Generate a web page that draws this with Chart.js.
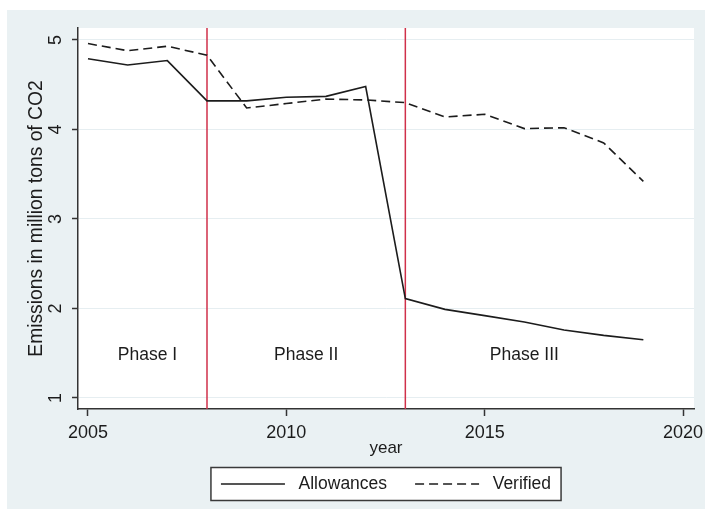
<!DOCTYPE html>
<html>
<head>
<meta charset="utf-8">
<script src="https://cdn.jsdelivr.net/npm/chart.js@4/dist/chart.umd.min.js"></script>
<style>
  html, body { margin: 0; padding: 0; background: #ffffff; }
  canvas { display: block; }
</style>
</head>
<body>
<canvas id="chart" width="705" height="509"></canvas>
<script>
// EU ETS emissions: allowances vs verified emissions (million t CO2)
const years = [2005, 2006, 2007, 2008, 2009, 2010, 2011, 2012, 2013, 2014, 2015, 2016, 2017, 2018, 2019];
const allowances = [4.79, 4.72, 4.77, 4.32, 4.32, 4.36, 4.37, 4.48, 2.11, 1.99, 1.92, 1.85, 1.76, 1.70, 1.65];
const verified   = [4.96, 4.88, 4.93, 4.83, 4.24, 4.29, 4.34, 4.33, 4.30, 4.14, 4.17, 4.01, 4.02, 3.85, 3.42];

const xTicks = [2005, 2010, 2015, 2020];
const yTicks = [1, 2, 3, 4, 5];

// Trading phase boundaries and their captions
const phaseBreaks = [2008, 2013];
const phaseNames = ['Phase I', 'Phase II', 'Phase III'];
const phaseNameX = [2006.5, 2010.5, 2016];
const phaseNameY = 1.48;

const FONT = '"Liberation Sans", Arial, Helvetica, sans-serif';
const INK = '#1c1c1c';
const LEGEND_MID = 484;

const toPoints = (vals) => years.map((yr, i) => ({ x: yr, y: vals[i] }));

const framePlugin = {
  id: 'frame',
  afterLayout(chart) {
    // place the legend row just below the axis title
    const lg = chart.legend;
    const pad = lg.options.labels.padding;
    lg.top = LEGEND_MID - pad - 17.5 / 2;
    lg.bottom = chart.height;
  },
  beforeDraw(chart) {
    const { ctx, chartArea: a } = chart;
    ctx.save();
    ctx.fillStyle = '#ffffff';
    ctx.fillRect(0, 0, chart.width, chart.height);
    ctx.fillStyle = '#eaf1f3';
    ctx.fillRect(7, 10, chart.width - 7, chart.height - 10);
    ctx.fillStyle = '#ffffff';
    ctx.fillRect(a.left, a.top, a.right - a.left, a.bottom - a.top);

    // legend frame
    const hb = chart.legend.legendHitBoxes;
    if (hb && hb.length) {
      const first = hb[0], last = hb[hb.length - 1];
      const left = first.left - 10;
      const right = last.left + last.width + 10;
      const mid = first.top + first.height / 2;
      ctx.fillStyle = '#ffffff';
      ctx.fillRect(left, mid - 16.5, right - left, 33);
      ctx.strokeStyle = '#3a3a3a';
      ctx.lineWidth = 1.5;
      ctx.strokeRect(left, mid - 16.5, right - left, 33);
    }
    ctx.restore();
  },
  beforeDatasetsDraw(chart) {
    const { ctx, chartArea: a, scales: { x, y } } = chart;
    ctx.save();
    ctx.strokeStyle = '#d0304a';
    ctx.lineWidth = 1.5;
    phaseBreaks.forEach((b) => {
      const px = x.getPixelForValue(b);
      ctx.beginPath();
      ctx.moveTo(px, a.top);
      ctx.lineTo(px, a.bottom);
      ctx.stroke();
    });
    ctx.fillStyle = INK;
    ctx.font = '17.5px ' + FONT;
    ctx.textAlign = 'center';
    ctx.textBaseline = 'middle';
    phaseNames.forEach((name, i) => {
      ctx.fillText(name, x.getPixelForValue(phaseNameX[i]), y.getPixelForValue(phaseNameY));
    });
    ctx.restore();
  }
};

new Chart(document.getElementById('chart'), {
  type: 'line',
  data: {
    datasets: [
      {
        label: 'Allowances',
        data: toPoints(allowances),
        borderColor: INK,
        borderWidth: 1.6,
        pointRadius: 0,
        fill: false,
        tension: 0
      },
      {
        label: 'Verified',
        data: toPoints(verified),
        borderColor: INK,
        borderWidth: 1.6,
        borderDash: [9, 5],
        pointRadius: 0,
        fill: false,
        tension: 0
      }
    ]
  },
  options: {
    responsive: false,
    animation: false,
    devicePixelRatio: 1,
    events: [],
    layout: { padding: { top: 28, right: 11, left: 0, bottom: 0 } },
    plugins: {
      tooltip: { enabled: false },
      legend: {
        position: 'bottom',
        fullSize: false,
        maxHeight: 40,
        labels: {
          usePointStyle: true,
          pointStyle: 'line',
          pointStyleWidth: 64,
          boxHeight: 17.5,
          padding: 28,
          color: INK,
          font: { family: FONT, size: 17.5 },
          generateLabels(chart) {
            const items = Chart.defaults.plugins.legend.labels.generateLabels(chart);
            items.forEach((it) => {
              const ds = chart.data.datasets[it.datasetIndex];
              it.text = ' ' + it.text;
              it.lineDash = ds.borderDash || [];
              it.lineWidth = ds.borderWidth;
              it.strokeStyle = ds.borderColor;
            });
            return items;
          }
        }
      }
    },
    scales: {
      x: {
        type: 'linear',
        min: 2004.748,
        max: 2020.277,
        afterBuildTicks: (s) => { s.ticks = xTicks.map((v) => ({ value: v })); },
        afterFit: (s) => { s.height = 60; s.paddingLeft = 0; s.paddingRight = 0; },
        ticks: {
          callback: (v) => String(v),
          font: { family: FONT, size: 18 },
          color: INK,
          padding: 6,
          maxRotation: 0,
          autoSkip: false
        },
        grid: { drawOnChartArea: false, tickLength: 7, tickColor: '#333333', tickWidth: 1.5 },
        border: { color: '#333333', width: 1.5 },
        title: {
          display: true,
          text: 'year',
          color: INK,
          font: { family: FONT, size: 17 },
          padding: { top: 0, bottom: 10 }
        }
      },
      y: {
        type: 'linear',
        min: 0.877,
        max: 5.134,
        afterBuildTicks: (s) => { s.ticks = yTicks.map((v) => ({ value: v })); },
        afterFit: (s) => { s.width = 78; s.paddingTop = 0; s.paddingBottom = 0; },
        ticks: {
          callback: (v) => String(v),
          font: { family: FONT, size: 18 },
          color: INK,
          padding: 10.5,
          minRotation: 90,
          maxRotation: 90,
          crossAlign: 'center',
          autoSkip: false
        },
        grid: { color: '#e6eef1', lineWidth: 1, tickColor: '#333333', tickLength: 6, tickWidth: 1.5 },
        border: { color: '#333333', width: 1.5 },
        title: {
          display: true,
          text: 'Emissions in million tons of CO2',
          color: INK,
          font: { family: FONT, size: 19.3 },
          padding: { top: 25, bottom: 0 }
        }
      }
    }
  },
  plugins: [framePlugin]
});
</script>
</body>
</html>
